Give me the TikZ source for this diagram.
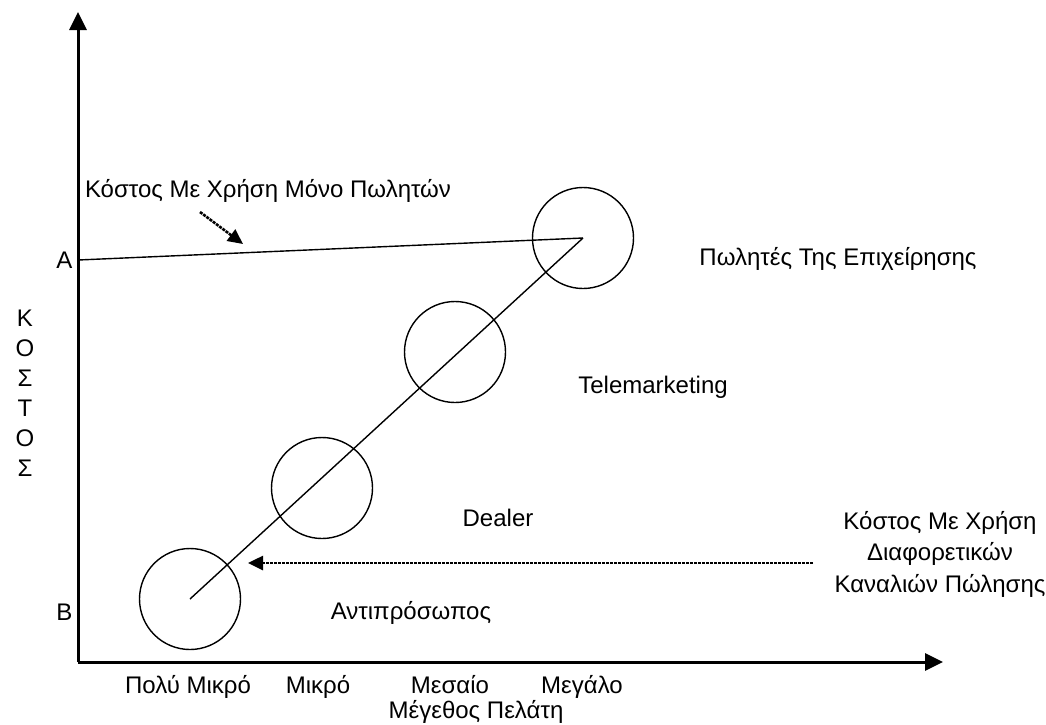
\documentclass[tikz,border=0pt]{standalone}
\usepackage{fontspec}
\setmainfont{Liberation Sans}
\usetikzlibrary{arrows.meta}

\tikzset{
  axis/.style={line width=3pt,-{Triangle[length=18pt,width=17pt]}},
  hint/.style={line width=2.6pt,dash pattern=on 3pt off 1pt,-{Triangle[length=15pt,width=14pt]}},
  ball/.style={draw,circle,line width=1.4pt,minimum size=101pt,inner sep=0pt},
  lbl/.style={font=\fontsize{24pt}{29pt}\selectfont,inner sep=0pt}
}

\begin{document}
\begin{tikzpicture}[x=1pt,y=-1pt,line width=1.4pt]
  \useasboundingbox (0,0) rectangle (1046,724);
  % axes
  \coordinate (O) at (78,662);
  \coordinate (Ytop) at (78,12);
  \coordinate (Xend) at (943,662);
  \draw[axis] (O) -- (Ytop);
  \draw[axis] (O) -- (Xend);
  % circles along the diagonal
  \foreach \x/\y [count=\i] in {190/599,322/488,455/352,583/238}{%
    \node[ball] (C-\i) at (\x,\y) {};
  }
  \draw (C-1.center) -- (C-4.center);
  \coordinate (A) at (78,260);
  \draw (A) -- (C-4.center);
  \node[lbl,anchor=east] (lA) at (73,260) {A};
  \node[lbl,anchor=east] (lB) at (73,612) {B};
  % vertical axis title
  \foreach \c [count=\i] in {Κ,Ο,Σ,Τ,Ο,Σ}{%
    \node[lbl] (K-\i) at (25,{288+30*\i}) {\c};
  }
  % horizontal axis labels
  \foreach \x/\t [count=\i] in {188/Πολύ Μικρό,318/Μικρό,450/Μεσαίο,582/Μεγάλο}{%
    \node[lbl,anchor=base] (X-\i) at (\x,693) {\t};
  }
  \node[lbl,anchor=base] (xt) at (476,718) {Μέγεθος Πελάτη};
  % channel labels
  \node[lbl] (t1) at (838,259) {Πωλητές Της Επιχείρησης};
  \node[lbl] (t2) at (653,387) {Telemarketing};
  \node[lbl] (t3) at (498,518) {Dealer};
  \node[lbl] (t4) at (411,613) {Αντιπρόσωπος};
  \node[lbl] (top) at (268,191) {Κόστος Με Χρήση Μόνο Πωλητών};
  \node[lbl,align=center,font=\fontsize{24pt}{31.5pt}\selectfont] (side) at (940,554)
    {Κόστος Με Χρήση\\Διαφορετικών\\Καναλιών Πώλησης};
  % pointers
  \coordinate (p1) at (200,212);
  \coordinate (p2) at (243,244);
  \draw[hint] (p1) -- (p2);
  \coordinate (q1) at (813,563);
  \coordinate (q2) at (248,563);
  \draw[hint] (q1) -- (q2);
\end{tikzpicture}
\end{document}
